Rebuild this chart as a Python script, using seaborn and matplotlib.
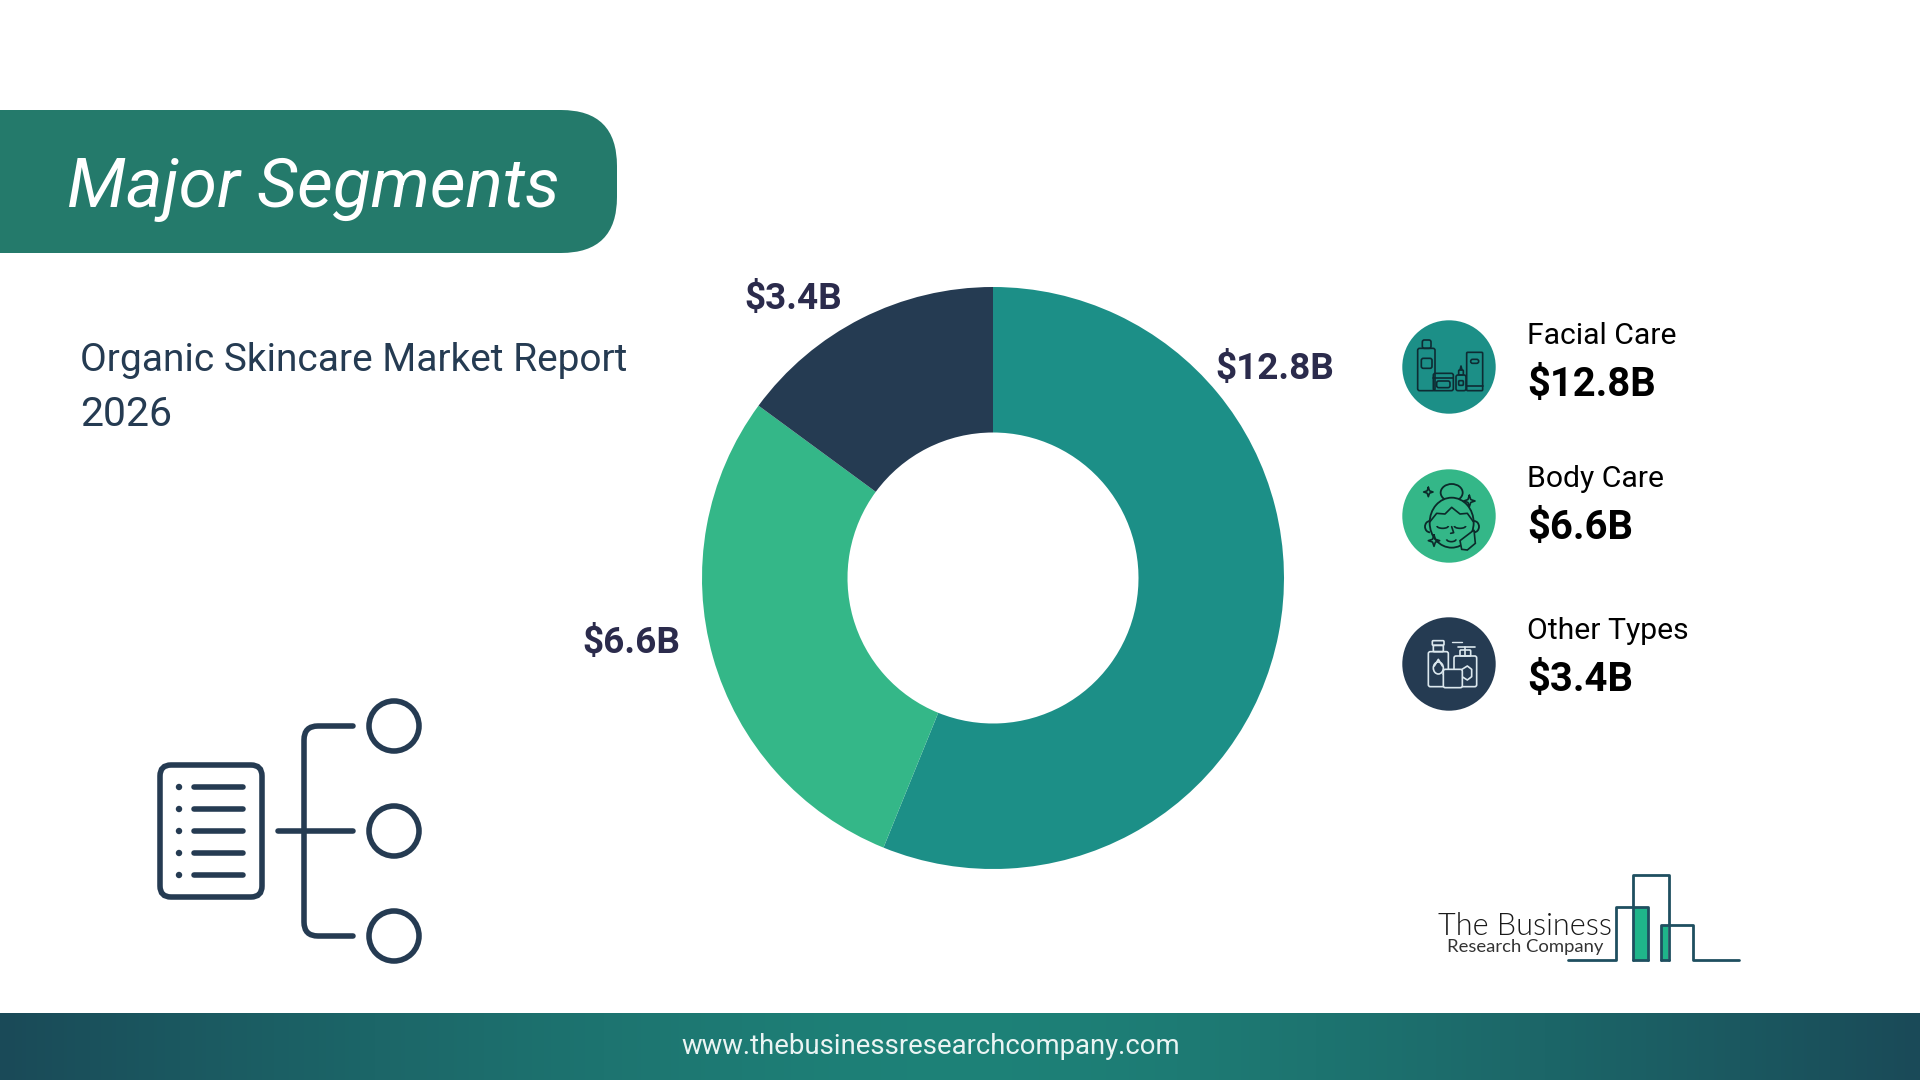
# major segments donut slide

import numpy as np
import matplotlib
matplotlib.use('Agg')
import matplotlib.pyplot as plt
from matplotlib.patches import Circle, Ellipse, FancyBboxPatch, Rectangle, Arc, Polygon, PathPatch
from matplotlib.path import Path
import seaborn as sns

categories = ['Facial Care', 'Body Care', 'Other Types']
values = [12.8, 6.6, 3.4]
value_labels = ['$12.8B', '$6.6B', '$3.4B']
title = 'Major Segments'
subtitle = 'Organic Skincare Market Report\n2026'
footer = 'www.thebusinessresearchcompany.com'
colors = ['#1C8F87', '#34B788', '#253B52']

sns.set_theme(style='white')
plt.rcParams['font.family'] = ['Roboto', 'DejaVu Sans']
palette = sns.color_palette(colors)

NAVY = '#253B52'
LABEL = '#2B2B4C'
LOGO = '#1F4F60'

fig = plt.figure(figsize=(19.2, 10.8), dpi=100, facecolor='white')

# everything that is not the donut is laid out in pixels on this axes
bg = fig.add_axes([0, 0, 1, 1])
bg.set_xlim(0, 1920)
bg.set_ylim(1080, 0)
bg.axis('off')


def rrect(x0, y0, x1, y1, r, ax=bg, **kw):
    p = FancyBboxPatch((x0 + r, y0 + r), x1 - x0 - 2 * r, y1 - y0 - 2 * r,
                       boxstyle='round,pad=%f,rounding_size=%f' % (r, r), **kw)
    ax.add_patch(p)
    return p


# header banner
rrect(-80, 110, 617, 253, 56, fc='#247A6B', ec='none')
bg.text(67, 207, title, color='white', fontsize=50, style='italic', weight=400, va='baseline')
bg.text(80, 371, subtitle.split('\n')[0], color=NAVY, fontsize=28, weight=400, va='baseline')
bg.text(80, 426, subtitle.split('\n')[1], color=NAVY, fontsize=29.5, weight=400, va='baseline')

# footer with soft gradient
t = np.abs(np.linspace(-1, 1, 512)).reshape(1, -1)
c0 = np.array([0x1E, 0x82, 0x78]) / 255
c1 = np.array([0x1A, 0x4A, 0x58]) / 255
grad = c0[None, None, :] + (c1 - c0)[None, None, :] * (t[:, :, None] ** 1.4)
bg.imshow(grad, extent=(0, 1920, 1080, 1013), aspect='auto', zorder=1)
bg.set_xlim(0, 1920)
bg.set_ylim(1080, 0)
bg.text(931, 1047, footer, color='#EAF4F3', fontsize=19.8, ha='center', va='center', zorder=2)

# donut
R = 291
CX, CY = 993, 578
ax = fig.add_axes([(CX - R) / 1920, 1 - (CY + R) / 1080, 2 * R / 1920, 2 * R / 1080])
ax.pie(values, colors=palette, startangle=90, counterclock=False, radius=1,
       wedgeprops=dict(width=0.5, linewidth=0))
ax.set_xlim(-1, 1)
ax.set_ylim(-1, 1)

label_xy = [(1275, 369), (631, 643), (793, 299)]
for lab, (x, y) in zip(value_labels, label_xy):
    bg.text(x, y, lab, color=LABEL, fontsize=26.6, weight='bold', ha='center', va='center')

# legend circles and text
legend_y = [367, 516, 664]
name_base = [344, 487, 639]
val_base = [396, 539, 691]
for i in range(3):
    bg.add_patch(Circle((1449, legend_y[i]), 46.7, fc=palette[i], ec='none'))
    bg.text(1527, name_base[i], categories[i], color='black', fontsize=21.7, weight=400, va='baseline')
    bg.text(1527, val_base[i], value_labels[i], color='black', fontsize=28.8, weight='bold', va='baseline')


def zx(x):
    return 1380 + x / 3


def zy(y):
    return 300 + y / 3


def box(x0, y0, x1, y1, col, r=2, lw=1.2):
    rrect(zx(x0), zy(y0), zx(x1), zy(y1), r, fc='none', ec=col, lw=lw, zorder=4)


def seg(xs, ys, col, lw=1.2):
    bg.plot([zx(v) for v in xs], [zy(v) for v in ys], color=col, lw=lw, solid_capstyle='round', zorder=4)


def sparkle(x, y, s, col):
    k = s * 0.25
    xs = [x, x + k, x + s, x + k, x, x - k, x - s, x - k, x]
    ys = [y - s, y - k, y, y + k, y + s, y + k, y, y - k, y - s]
    seg(xs, ys, col)


# facial care icon
ic = '#0E2B33'
box(113, 145, 165, 272, ic)
box(127, 120, 153, 145, ic)
box(124, 175, 156, 205, ic)
box(160, 220, 220, 272, ic)
seg([160, 220], [233, 233], ic)
box(170, 243, 210, 263, ic)
box(228, 225, 258, 272, ic)
box(236, 210, 250, 225, ic, r=1)
seg([240, 243, 246], [210, 198, 210], ic)
box(236, 242, 250, 256, ic, r=1)
box(260, 157, 308, 272, ic, r=1)
seg([260, 308], [258, 258], ic)
box(272, 178, 296, 190, ic)

# body care icon
ic = '#0C2A2A'
bg.add_patch(Ellipse((zx(215), zy(578)), 66 / 3, 52 / 3, fc='none', ec=ic, lw=1.3, zorder=4))
bg.add_patch(Ellipse((zx(215), zy(668)), 132 / 3, 150 / 3, fc='#34B788', ec=ic, lw=1.3, zorder=4))
bg.add_patch(Arc((zx(150), zy(680)), 30 / 3, 34 / 3, theta1=90, theta2=270, ec=ic, lw=1.3, zorder=4))
bg.add_patch(Arc((zx(282), zy(680)), 30 / 3, 34 / 3, theta1=-90, theta2=90, ec=ic, lw=1.3, zorder=4))
seg([150, 170, 195, 215, 240, 262, 280], [665, 640, 642, 622, 642, 640, 665], ic)
bg.add_patch(Arc((zx(188), zy(678)), 34 / 3, 14 / 3, theta1=0, theta2=180, ec=ic, lw=1.2, zorder=4))
bg.add_patch(Arc((zx(240), zy(678)), 34 / 3, 14 / 3, theta1=0, theta2=180, ec=ic, lw=1.2, zorder=4))
seg([215, 221, 212], [680, 698, 700], ic)
bg.add_patch(Arc((zx(214), zy(718)), 28 / 3, 14 / 3, theta1=0, theta2=180, ec=ic, lw=1.2, zorder=4))
sparkle(145, 576, 14, ic)
sparkle(268, 603, 17, ic)
sparkle(162, 722, 17, ic)
bg.add_patch(Polygon([(zx(v[0]), zy(v[1])) for v in [(245, 748), (240, 722), (282, 690), (286, 730), (262, 750)]],
                     fc='#34B788', ec=ic, lw=1.2, zorder=5))
seg([248, 272], [742, 708], ic)

# other types icon
ic = '#DCE8EE'
box(145, 1055, 205, 1160, ic)
box(160, 1036, 190, 1055, ic, r=1)
box(157, 1022, 192, 1036, ic, r=1)
bg.add_patch(Ellipse((zx(175), zy(1104)), 30 / 3, 36 / 3, fc='none', ec=ic, lw=1.2, zorder=4))
seg([163, 175, 187], [1098, 1078, 1098], ic)
box(222, 1068, 290, 1160, ic)
box(240, 1050, 272, 1068, ic, r=1)
seg([235, 285], [1040, 1040], ic)
seg([255, 255], [1040, 1068], ic)
seg([246, 262, 275, 275, 262, 246], [1108, 1098, 1108, 1130, 1140, 1130], ic)
rrect(zx(190), zy(1108), zx(247), zy(1163), 2, fc='#253B52', ec=ic, lw=1.2, zorder=5)
seg([190, 247], [1122, 1122], ic)
seg([206, 218, 230, 230, 218, 206, 206], [1134, 1126, 1134, 1148, 1155, 1148, 1134], ic)
seg([215, 245], [1027, 1027], ic, lw=1.0)

# list and tree icon on the left
lw = 4
rrect(157 + 3, 762 + 3, 265 - 3, 900 - 3, 11, fc='none', ec=NAVY, lw=lw)
for y in [787, 809, 831, 853, 875]:
    bg.add_patch(Circle((179, y), 3.2, fc=NAVY, ec='none'))
    bg.plot([194, 243], [y, y], color=NAVY, lw=lw, solid_capstyle='round')
bg.plot([278, 353], [831, 831], color=NAVY, lw=lw, solid_capstyle='round')
tree = Path([(353, 726), (318, 726), (304, 726), (304, 740), (304, 922), (304, 936), (318, 936), (353, 936)],
            [Path.MOVETO, Path.LINETO, Path.CURVE3, Path.CURVE3, Path.LINETO, Path.CURVE3, Path.CURVE3, Path.LINETO])
bg.add_patch(PathPatch(tree, fc='none', ec=NAVY, lw=lw, capstyle='round'))
for y in [726, 831, 936]:
    bg.add_patch(Circle((394, y), 25, fc='none', ec=NAVY, lw=lw))


# logo, from a 3x crop starting at (1420, 860)
def lx(x):
    return 1420 + x / 3


def ly(y):
    return 860 + y / 3


bg.add_patch(Rectangle((lx(638), ly(140)), 47 / 3, 160 / 3, fc='#1FB58A', ec='none'))
bg.add_patch(Rectangle((lx(722), ly(195)), 23 / 3, 105 / 3, fc='#1FB58A', ec='none'))
bg.plot([lx(v) for v in [445, 588, 588, 685, 685]], [ly(v) for v in [300, 300, 140, 140, 300]], color=LOGO, lw=2)
bg.plot([lx(v) for v in [638, 638, 746, 746]], [ly(v) for v in [300, 45, 45, 300]], color=LOGO, lw=2)
bg.plot([lx(v) for v in [722, 722, 818, 818, 958]], [ly(v) for v in [300, 195, 195, 300, 300]], color=LOGO, lw=2)
bg.plot([lx(v) for v in [638, 685]], [ly(300)] * 2, color=LOGO, lw=2)
bg.plot([lx(v) for v in [722, 746]], [ly(300)] * 2, color=LOGO, lw=2)
bg.text(lx(55), ly(225), 'The Business', color='#1A1A1A', fontsize=22, family='Lato', weight=300, va='baseline')
bg.text(lx(80), ly(275), 'Research Company', color='#333333', fontsize=13.3, family='Lato', weight=400, va='baseline')

fig.savefig('out.png', dpi=100)
